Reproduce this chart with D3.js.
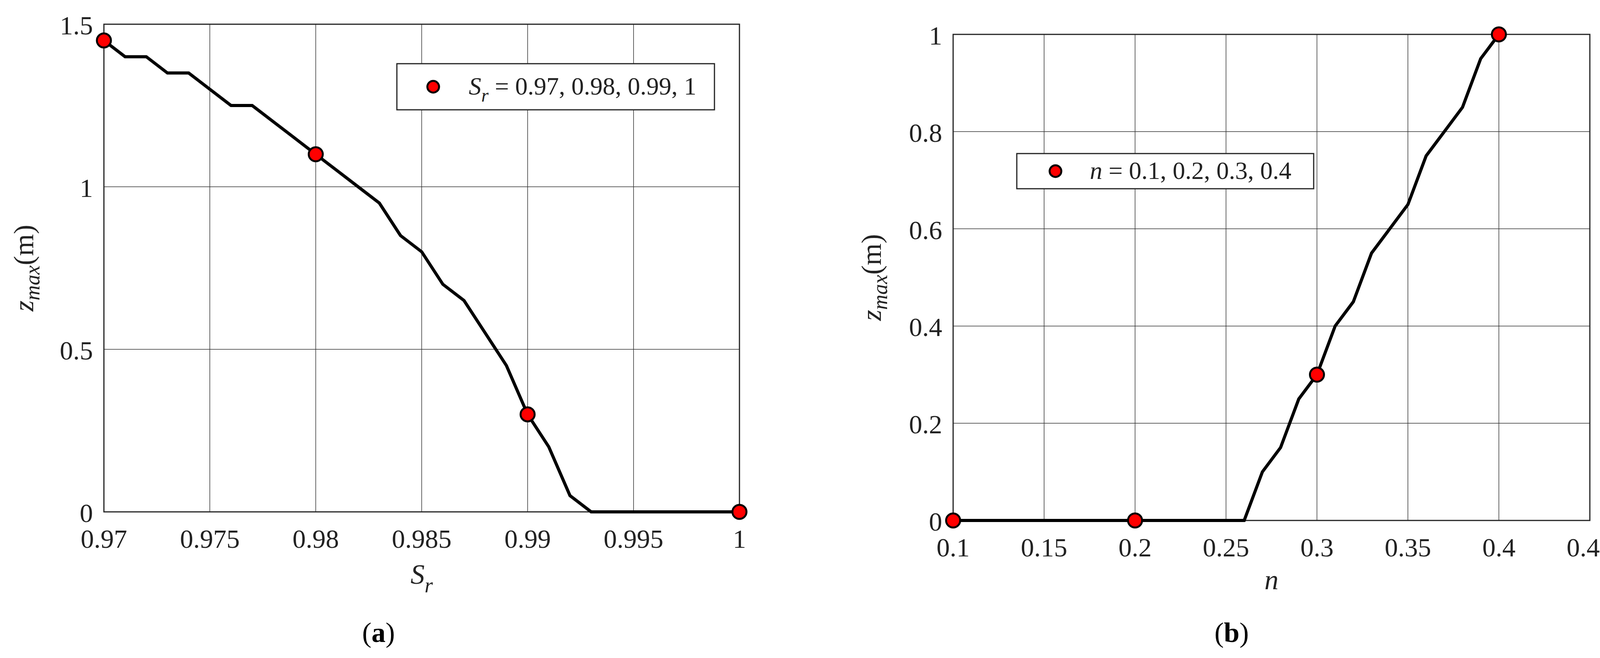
<!DOCTYPE html>
<html><head><meta charset="utf-8">
<script src="https://cdn.jsdelivr.net/npm/d3@7"></script>
<style>body{margin:0;background:#fff}svg{font-family:"Liberation Serif",serif}</style>
</head><body>
<svg id="c" width="4139" height="1684"></svg>
<script>
// panel (a)
const srX = [0.97,0.971,0.972,0.973,0.974,0.975,0.976,0.977,0.978,0.979,0.98,0.981,0.982,0.983,0.984,0.985,0.986,0.987,0.988,0.989,0.99,0.991,0.992,0.993,0.994,0.995,0.996,0.997,0.998,0.999,1];
const srZ = [1.45,1.40,1.40,1.35,1.35,1.30,1.25,1.25,1.20,1.15,1.10,1.05,1.00,0.95,0.85,0.80,0.70,0.65,0.55,0.45,0.30,0.20,0.05,0,0,0,0,0,0,0,0];
const srMarks = [0.97,0.98,0.99,1];
const srTicksX = [0.97,0.975,0.98,0.985,0.99,0.995,1];
const srTicksY = [0,0.5,1,1.5];
// panel (b)
const nX = [0.1,0.11,0.12,0.13,0.14,0.15,0.16,0.17,0.18,0.19,0.2,0.21,0.22,0.23,0.24,0.25,0.26,0.27,0.28,0.29,0.3,0.31,0.32,0.33,0.34,0.35,0.36,0.37,0.38,0.39,0.4];
const nZ = [0,0,0,0,0,0,0,0,0,0,0,0,0,0,0,0,0,0.10,0.15,0.25,0.30,0.40,0.45,0.55,0.60,0.65,0.75,0.80,0.85,0.95,1.00];
const nMarks = [0.1,0.2,0.3,0.4];
const nTicksX = [0.1,0.15,0.2,0.25,0.3,0.35,0.4,0.45];
const nTicksY = [0,0.2,0.4,0.6,0.8,1];

const svg = d3.select("#c");

function panel(o){
  const x = d3.scaleLinear().domain(o.xd).range([o.l,o.r]);
  const y = d3.scaleLinear().domain(o.yd).range([o.b,o.t]);
  const g = svg.append("g");
  // grid
  g.selectAll(".gx").data(o.tx).enter().append("line")
    .attr("x1",d=>x(d)).attr("x2",d=>x(d)).attr("y1",o.t).attr("y2",o.b)
    .attr("stroke","#333").attr("stroke-width",1.5);
  g.selectAll(".gy").data(o.ty).enter().append("line")
    .attr("y1",d=>y(d)).attr("y2",d=>y(d)).attr("x1",o.l).attr("x2",o.r)
    .attr("stroke","#333").attr("stroke-width",1.5);
  g.append("rect").attr("x",o.l).attr("y",o.t).attr("width",o.r-o.l).attr("height",o.b-o.t)
    .attr("fill","none").attr("stroke","#222").attr("stroke-width",3);
  // tick labels
  g.selectAll(".tx").data(o.tx).enter().append("text")
    .attr("x",d=>x(d)).attr("y",o.b+92).attr("text-anchor","middle")
    .attr("font-size",68).attr("fill","#222").text(d=>d);
  g.selectAll(".ty").data(o.ty).enter().append("text")
    .attr("x",o.l-28).attr("y",d=>y(d)+26).attr("text-anchor","end")
    .attr("font-size",68).attr("fill","#222").text(d=>d);
  // line
  g.append("path").datum(o.xs.map((d,i)=>[d,o.ys[i]]))
    .attr("d",d3.line().x(d=>x(d[0])).y(d=>y(d[1])))
    .attr("fill","none").attr("stroke","#000").attr("stroke-width",8);
  g.selectAll(".m").data(o.marks).enter().append("circle")
    .attr("cx",d=>x(d)).attr("cy",d=>y(o.ys[o.xs.indexOf(d)]))
    .attr("r",18).attr("fill","#ff0000").attr("stroke","#000").attr("stroke-width",5);
  // y label
  const yl = g.append("text").attr("transform",`translate(${o.ytx},${(o.t+o.b)/2}) rotate(-90)`)
    .attr("text-anchor","middle").attr("font-size",72).attr("fill","#222");
  yl.append("tspan").attr("font-style","italic").text("z");
  yl.append("tspan").attr("font-style","italic").attr("font-size",54).attr("dy",16).text("max");
  yl.append("tspan").attr("dy",-16).text("(m)");
  // x label
  const xl = g.append("text").attr("x",(o.l+o.r)/2).attr("y",o.xly).attr("text-anchor","middle")
    .attr("font-size",72).attr("fill","#222").attr("font-style","italic");
  xl.append("tspan").text(o.xlab);
  if(o.xsub) xl.append("tspan").attr("font-size",54).attr("dy",22).text(o.xsub);
  // panel letter
  const pl = svg.append("text").attr("x",o.cap).attr("y",1643).attr("text-anchor","middle")
    .attr("font-size",72).attr("fill","#000");
  pl.append("tspan").text("(");
  pl.append("tspan").attr("font-weight","bold").text(o.letter);
  pl.append("tspan").text(")");
  // legend
  const L = o.leg;
  g.append("rect").attr("x",L.x).attr("y",L.y).attr("width",L.w).attr("height",L.h)
    .attr("fill","#fff").attr("stroke","#222").attr("stroke-width",3);
  g.append("circle").attr("cx",L.x+L.cx).attr("cy",L.y+L.h/2).attr("r",15)
    .attr("fill","#ff0000").attr("stroke","#000").attr("stroke-width",5);
  const lt = g.append("text").attr("x",L.x+L.tx).attr("y",L.y+L.h/2+20)
    .attr("font-size",64).attr("fill","#222");
  L.parts(lt);
}

panel({xd:[0.97,1],yd:[0,1.5],l:266,r:1893,t:62,b:1310,tx:srTicksX,ty:srTicksY,
  xs:srX,ys:srZ,marks:srMarks,xlab:"S",xsub:"r",xly:1494,ytx:85,cap:969,letter:"a",
  leg:{x:1016,y:163,w:813,h:118,cx:93,tx:184,parts:t=>{
    t.append("tspan").attr("font-style","italic").text("S");
    t.append("tspan").attr("font-style","italic").attr("font-size",48).attr("dy",18).text("r");
    t.append("tspan").attr("dy",-18).text(" = 0.97, 0.98, 0.99, 1");}}});

panel({xd:[0.1,0.45],yd:[0,1],l:2440,r:4070,t:88,b:1332,tx:nTicksX,ty:nTicksY,
  xs:nX,ys:nZ,marks:nMarks,xlab:"n",xsub:null,xly:1508,ytx:2255,cap:3153,letter:"b",
  leg:{x:2603,y:393,w:760,h:90,cx:99,tx:187,parts:t=>{
    t.append("tspan").attr("font-style","italic").text("n");
    t.append("tspan").text(" = 0.1, 0.2, 0.3, 0.4");}}});
</script>
</body></html>
